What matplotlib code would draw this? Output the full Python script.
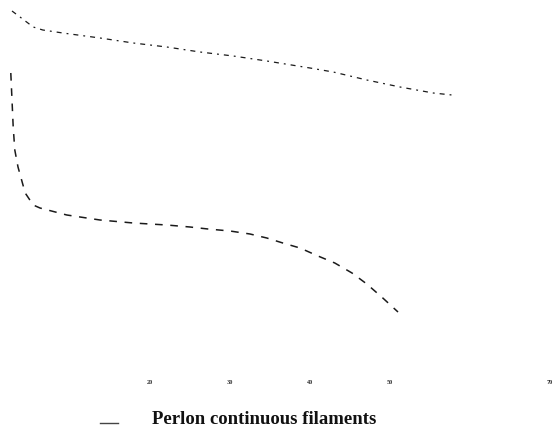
import matplotlib
matplotlib.use("Agg")
import matplotlib.pyplot as plt

# Upper curve
upper_x = [2.75, 3.75, 5.4, 6.6, 9.1, 13.75, 17.9, 22.1, 26.25, 30.4, 34.6, 40.0,
           42.9, 47.1, 51.25, 55.4, 57.75]
upper_y = [97.25, 95.75, 93.25, 92.5, 91.75, 90.5, 89.25, 88.25, 87.0, 86.0, 84.75,
           83.0, 82.0, 80.0, 78.25, 76.75, 76.25]

# Lower curve (Perlon continuous filaments)
lower_x = [2.6, 2.75, 2.9, 3.1, 3.5, 4.4, 5.4, 6.25, 9.6, 13.75, 17.9, 22.1, 25.0,
           27.25, 30.0, 32.5, 34.6, 36.6, 38.75, 41.0, 43.1, 45.25, 47.1, 49.1, 51.0]
lower_y = [81.75, 75.0, 68.25, 62.5, 58.25, 51.75, 48.75, 48.0, 46.25, 45.0, 44.25,
           43.75, 43.25, 42.75, 42.25, 41.5, 40.5, 39.25, 38.0, 36.0, 34.25, 31.75,
           29.0, 25.5, 22.0]

tick_values = [20, 30, 40, 50, 70]
tick_labels = ["20", "30", "40", "50", "70"]
legend_label = "Perlon continuous filaments"

fig = plt.figure(figsize=(5.55, 4.38), dpi=100)
ax = fig.add_axes([0, 0, 1, 1])
ax.set_xlim(1.25, 70.625)
ax.set_ylim(-9.5, 100)
ax.axis("off")

ink = "#1a1a1a"
ax.plot(upper_x, upper_y, color=ink, lw=0.9, dashes=(4, 4, 1.5, 4))
ax.plot(lower_x, lower_y, color=ink, lw=1.1, dashes=(5, 5))

for v, lab in zip(tick_values, tick_labels):
    ax.text(v, 4.25, lab, ha="center", va="center", fontsize=4.5,
            color="#333333", family="Liberation Serif", fontweight="bold")

# legend entry
ax.plot([13.75, 16.0], [-5.75, -5.75], color="#444444", lw=1.0)
ax.text(20.25, -4.8, legend_label, ha="left", va="center", fontsize=13.5,
        family="Liberation Serif", fontweight="bold", color="#111111")

fig.savefig("out.png", dpi=100)
